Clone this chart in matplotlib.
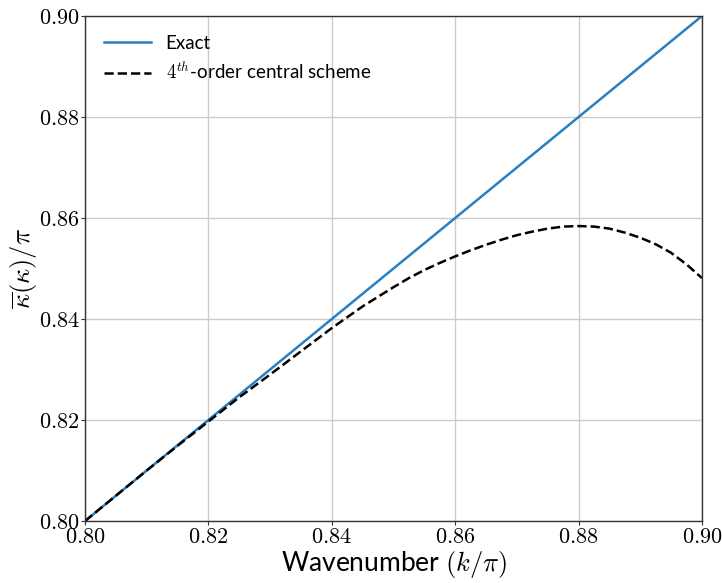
import matplotlib
matplotlib.use("Agg")
import matplotlib.pyplot as plt
from matplotlib.ticker import FuncFormatter

plt.rcParams['mathtext.fontset'] = 'cm'
plt.rcParams['font.family'] = ['Lato', 'DejaVu Sans']

# Data
k_exact = [0.80, 0.90]
kappa_exact = [0.80, 0.90]

k_scheme = [0.800, 0.805, 0.810, 0.815, 0.820, 0.825, 0.830, 0.835, 0.840,
            0.845, 0.850, 0.8525, 0.855, 0.8575, 0.860, 0.8625, 0.865, 0.8675,
            0.870, 0.8725, 0.875, 0.8775, 0.880, 0.8825, 0.885, 0.8875,
            0.890, 0.8925, 0.895, 0.8975, 0.900]
kappa_scheme = [0.8000, 0.8050, 0.8100, 0.8149, 0.8197, 0.8245, 0.8290, 0.8336,
                0.8382, 0.8425, 0.8463, 0.8481, 0.8497, 0.8511, 0.8524, 0.8536,
                0.8547, 0.8557, 0.8566, 0.8573, 0.8579, 0.8583, 0.8584, 0.8583,
                0.8579, 0.8571, 0.8561, 0.8548, 0.8531, 0.8508, 0.8481]

xticks = [0.80, 0.82, 0.84, 0.86, 0.88, 0.90]
yticks = [0.80, 0.82, 0.84, 0.86, 0.88, 0.90]

fig = plt.figure(figsize=(7.22, 5.83), dpi=100)
ax = fig.add_axes([0.1177, 0.1063, 0.8546, 0.8663])

ax.plot(k_exact, kappa_exact, color='#2a7fc0', lw=1.8, label='Exact')
ax.plot(k_scheme, kappa_scheme, color='black', lw=1.8, ls='--',
        label=r'$4^{th}$-order central scheme')

ax.set_xlim(0.80, 0.90)
ax.set_ylim(0.80, 0.90)
ax.set_xticks(xticks)
ax.set_yticks(yticks)
fmt = FuncFormatter(lambda v, p: r'$%.2f$' % v)
ax.xaxis.set_major_formatter(fmt)
ax.yaxis.set_major_formatter(fmt)
ax.tick_params(direction='out', length=3, width=0.8, labelsize=16, pad=1,
               color='#333333')
ax.grid(True, color='#cccccc', lw=1.0)
ax.set_axisbelow(True)
for s in ax.spines.values():
    s.set_color('#333333')
    s.set_linewidth(1.0)

ax.set_xlabel(r'Wavenumber $(k/\pi)$', fontsize=19, labelpad=2)
ax.set_ylabel(r'$\overline{\kappa}(\kappa)/\pi$', fontsize=19, labelpad=0)

ax.legend(loc='upper left', frameon=False, fontsize=13.5, handlelength=2.5,
          borderaxespad=0.6, labelspacing=0.5)

fig.savefig('out.png', dpi=100)
